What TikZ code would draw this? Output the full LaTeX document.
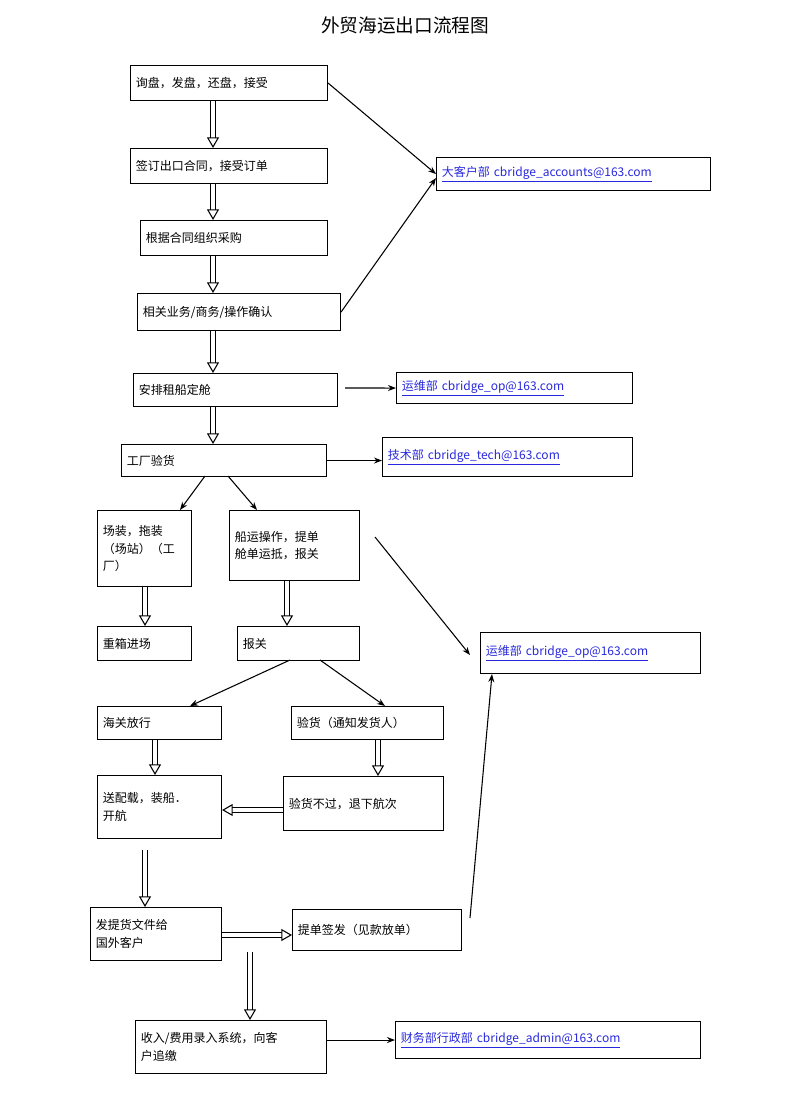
\documentclass[tikz,border=0pt]{standalone}
\usepackage{fontspec}
\setmainfont{Noto Sans CJK SC}
\usetikzlibrary{arrows.meta}
\definecolor{linkblue}{RGB}{40,40,220}
\tikzset{
  box/.style={draw, thick, inner xsep=4pt, inner ysep=0pt, align=left, anchor=north west, font=\fontsize{9pt}{13pt}\selectfont},
  flow/.style={thick, -{Stealth[length=6pt]}},
  hollow/.style={double, double distance=3pt, thick, -{Triangle[open,length=8pt,width=9pt]}},
}
\newcommand{\bx}[6]{%
  \pgfmathsetmacro{\bw}{(#4-#2)*0.75-8}%
  \pgfmathsetmacro{\bh}{(#5-#3)*0.75}%
  \node[box, text width=\bw pt, minimum height=\bh pt] (#1) at (#2,#3) {#6};}
\newcommand{\lk}[1]{\textcolor{linkblue}{\underline{#1}}}
\begin{document}
\begin{tikzpicture}[x=0.75pt,y=-0.75pt]
  \useasboundingbox (0,0) rectangle (800,1104);
  \node[font=\fontsize{14pt}{16pt}\selectfont] (title) at (405,25) {外贸海运出口流程图};
  % main column
  \bx{ask}{130}{65}{327}{100}{询盘，发盘，还盘，接受}
  \bx{sign}{130}{148}{327}{183}{签订出口合同，接受订单}
  \bx{buy}{140}{220}{327}{255}{根据合同组织采购}
  \bx{check}{137}{293}{340}{330}{相关业务/商务/操作确认}
  \bx{ship}{133}{373}{337}{406}{安排租船定舱}
  \bx{fact}{121}{444}{326}{476}{工厂验货}
  \bx{load}{97}{510}{191}{586}{场装，拖装\\（场站）（工\\厂）}
  \bx{oper}{229}{510}{359}{580}{船运操作，提单\\舱单运抵，报关}
  \bx{box}{97}{626}{191}{660}{重箱进场}
  \bx{decl}{237}{626}{359}{660}{报关}
  \bx{rel}{97}{706}{221}{739}{海关放行}
  \bx{insp}{291}{706}{443}{739}{验货（通知发货人）}
  \bx{sail}{97}{775}{221}{838}{送配载，装船．\\开航}
  \bx{fail}{283}{776}{443}{830}{验货不过，退下航次}
  \bx{docs}{90}{907}{221}{960}{发提货文件给\\国外客户}
  \bx{bill}{292}{909}{461}{950}{提单签发（见款放单）}
  \bx{fee}{135}{1020}{326}{1073}{收入/费用录入系统，向客\\户追缴}
  % contacts
  \bx{acc}{436}{157}{710}{190}{\lk{大客户部 cbridge\_accounts@163.com}}
  \bx{op}{396}{372}{632}{403}{\lk{运维部 cbridge\_op@163.com}}
  \bx{tech}{382}{437}{632}{476}{\lk{技术部 cbridge\_tech@163.com}}
  \bx{opb}{480}{632}{700}{673}{\lk{运维部 cbridge\_op@163.com}}
  \bx{fin}{395}{1021}{700}{1058}{\lk{财务部行政部 cbridge\_admin@163.com}}
  % hollow steps
  \draw[hollow] (ask.south -| 213,0) -- (sign.north -| 213,0);
  \draw[hollow] (sign.south -| 213,0) -- (buy.north -| 213,0);
  \draw[hollow] (buy.south -| 213,0) -- (check.north -| 213,0);
  \draw[hollow] (check.south -| 213,0) -- (ship.north -| 213,0);
  \draw[hollow] (ship.south -| 213,0) -- (fact.north -| 213,0);
  \draw[hollow] (load.south -| 145,0) -- (box.north -| 145,0);
  \draw[hollow] (oper.south -| 287,0) -- (decl.north -| 287,0);
  \draw[hollow] (rel.south -| 155,0) -- (sail.north -| 155,0);
  \draw[hollow] (insp.south -| 378,0) -- (fail.north -| 378,0);
  \draw[hollow] (fail.west |- 0,810) -- (sail.east |- 0,810);
  \draw[hollow] (145,850) -- (docs.north -| 145,0);
  \draw[hollow] (docs.east |- 0,935) -- (bill.west |- 0,935);
  \draw[hollow] (250,952) -- (fee.north -| 250,0);
  % plain arrows
  \draw[flow] (ask.east) -- (acc.west);
  \draw[flow] (check.east) -- ([yshift=-3pt]acc.west);
  \draw[flow] (345,388) -- (op.west);
  \draw[flow] (fact.east) -- (tech.west |- fact.east);
  \draw[flow] (205,476) -- (load.north -| 180,0);
  \draw[flow] (228,476) -- (oper.north -| 257,0);
  \draw[flow] (375,537) -- (470,655);
  \draw[flow] (290,660) -- (rel.north -| 190,0);
  \draw[flow] (320,660) -- (insp.north -| 385,0);
  \draw[flow] (470,918) -- (opb.south -| 492,0);
  \draw[flow] (fee.east |- fin.west) -- (fin.west);
\end{tikzpicture}
\end{document}
